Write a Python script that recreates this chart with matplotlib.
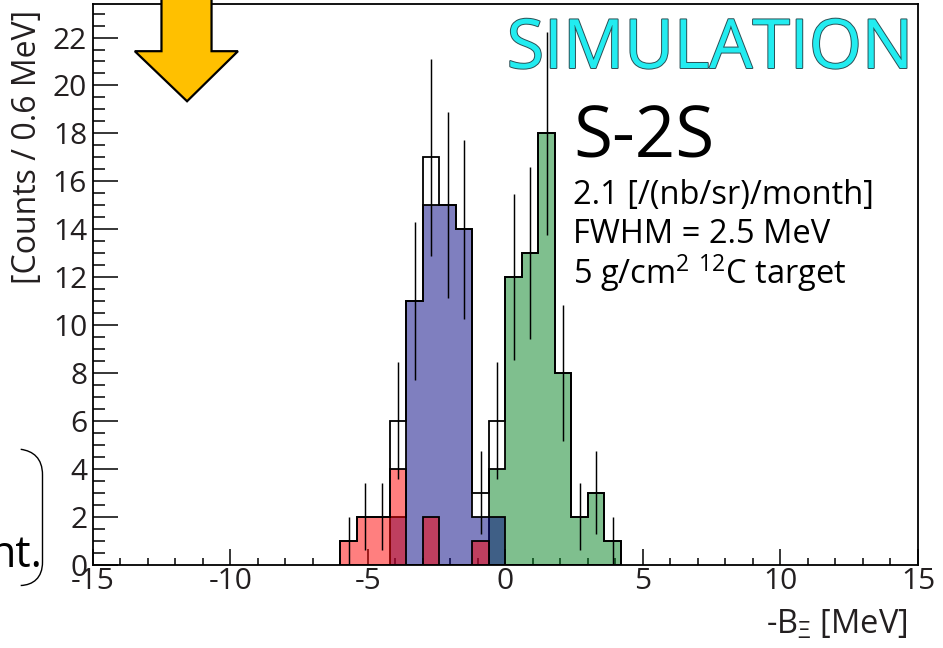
import numpy as np
import matplotlib
matplotlib.use("Agg")
import matplotlib.pyplot as plt
from matplotlib.patches import Polygon, PathPatch
from matplotlib.path import Path
from matplotlib.ticker import MultipleLocator
import matplotlib.patheffects as pe

plt.rcParams['font.family'] = ['Open Sans', 'DejaVu Sans']
plt.rcParams['axes.unicode_minus'] = False
plt.rcParams['mathtext.fontset'] = 'custom'
plt.rcParams['mathtext.rm'] = 'Open Sans'
plt.rcParams['mathtext.it'] = 'Open Sans'
plt.rcParams['mathtext.bf'] = 'Open Sans'

# ---- histogram contents (0.6 MeV bins starting at -6.0 MeV) ----
bin_width = 0.6
first_edge = -6.0
counts_red = [1, 2, 2, 4, 0, 2, 0, 0, 1, 0, 0, 0, 0, 0, 0, 0, 0]
counts_blue = [0, 0, 0, 2, 11, 15, 15, 14, 2, 2, 0, 0, 0, 0, 0, 0, 0]
counts_green = [0, 0, 0, 0, 0, 0, 0, 0, 0, 4, 12, 13, 18, 8, 2, 3, 1]
counts_total = [1, 2, 2, 6, 11, 17, 15, 14, 3, 6, 12, 13, 18, 8, 2, 3, 1]

x_range = (-15, 15)
y_max = 23.4
x_ticks = [-15, -10, -5, 0, 5, 10, 15]

ink = '#231f20'
W, H = 943, 648

fig = plt.figure(figsize=(W / 100, H / 100), dpi=100)
ax = fig.add_axes([92.7 / W, 1 - 564.5 / H, (918 - 92.7) / W, (564.5 - 4) / H])

edges = first_edge + bin_width * np.arange(len(counts_total) + 1)
centers = 0.5 * (edges[:-1] + edges[1:])

ax.set_axisbelow(True)
ax.stairs(counts_green, edges, fill=True, facecolor=(0, 0.5, 0.12, 0.5),
          edgecolor='black', linewidth=1.3, baseline=0, zorder=2)
ax.stairs(counts_blue, edges, fill=True, facecolor=(0, 0, 0.5, 0.5),
          edgecolor='black', linewidth=1.3, baseline=0, zorder=2.1)
ax.stairs(counts_red, edges, fill=True, facecolor=(1, 0, 0, 0.5),
          edgecolor='black', linewidth=1.3, baseline=0, zorder=2.2)
ax.stairs(counts_total, edges, fill=False, edgecolor='black',
          linewidth=1.3, baseline=0, zorder=2.3)

tot = np.asarray(counts_total, dtype=float)
ax.errorbar(centers, tot, yerr=np.sqrt(tot), fmt='none', ecolor='black',
            elinewidth=1.05, capsize=0, zorder=2.4)

ax.set_xlim(*x_range)
ax.set_ylim(0, y_max)
ax.set_xticks(x_ticks)
ax.xaxis.set_minor_locator(MultipleLocator(1))
ax.yaxis.set_major_locator(MultipleLocator(2))
ax.yaxis.set_minor_locator(MultipleLocator(0.5))
ax.tick_params(axis='both', which='both', direction='in', colors='black',
               labelcolor=ink, labelsize=21.5, width=1.1,
               top=False, right=False)
ax.tick_params(axis='x', which='major', length=11.5, pad=2)
ax.tick_params(axis='x', which='minor', length=5)
ax.tick_params(axis='y', which='major', length=18, pad=4)
ax.tick_params(axis='y', which='minor', length=8.6)
for s in ax.spines.values():
    s.set_linewidth(1.3)
    s.set_zorder(3)

def fx(px):
    return px / W

def fy(py):
    return 1 - py / H

# axis titles
fig.text(fx(36), fy(10), '[Counts / 0.6 MeV]', rotation=90,
         rotation_mode='anchor', ha='right', va='baseline', fontsize=23, color=ink)
fig.text(fx(908), fy(634), r'-B$_{\mathrm{Ξ}}$ [MeV]', ha='right', va='baseline',
         fontsize=23.5, color=ink)

# simulation banner
fig.text(fx(913), fy(68), 'SIMULATION', ha='right', va='baseline', fontsize=49,
         color='#22ecf0',
         path_effects=[pe.withStroke(linewidth=1.4, foreground='#2b4f55')])

# reaction info block
fig.text(fx(573), fy(157), 'S-2S', ha='left', va='baseline', fontsize=51, color='black')
fig.text(fx(573), fy(204), '2.1 [/(nb/sr)/month]', ha='left', va='baseline',
         fontsize=23.5, color='black')
fig.text(fx(573), fy(243), 'FWHM = 2.5 MeV', ha='left', va='baseline',
         fontsize=23.5, color='black')
fig.text(fx(573), fy(284), r'5 g/cm$^{2}$ $^{12}$C target', ha='left', va='baseline',
         fontsize=23.5, color='black')

# down arrow marker
arrow = Polygon([(-12.5, 25.0), (-10.68, 25.0), (-10.68, 21.43), (-9.72, 21.43),
                 (-11.57, 19.34), (-13.47, 21.43), (-12.5, 21.43)],
                closed=True, facecolor='#ffc000', edgecolor='black',
                linewidth=1.6, joinstyle='miter', clip_on=False, zorder=6)
ax.add_patch(arrow)

# text and bracket continuing from the neighbouring panel
fig.text(fx(42), fy(567), 'nt.', ha='right', va='baseline', fontsize=31, color='black')
verts = [(20.7, 449.3), (33, 451), (42.5, 458), (42.5, 475),
         (42.5, 562), (42.5, 578), (33, 585), (20.7, 585.5)]
codes = [Path.MOVETO, Path.CURVE4, Path.CURVE4, Path.CURVE4,
         Path.LINETO, Path.CURVE4, Path.CURVE4, Path.CURVE4]
bracket = Path([(fx(x), fy(y)) for x, y in verts], codes)
fig.patches.append(PathPatch(bracket, transform=fig.transFigure, facecolor='none',
                             edgecolor='black', linewidth=1.0))

fig.savefig('out.png', dpi=100)
